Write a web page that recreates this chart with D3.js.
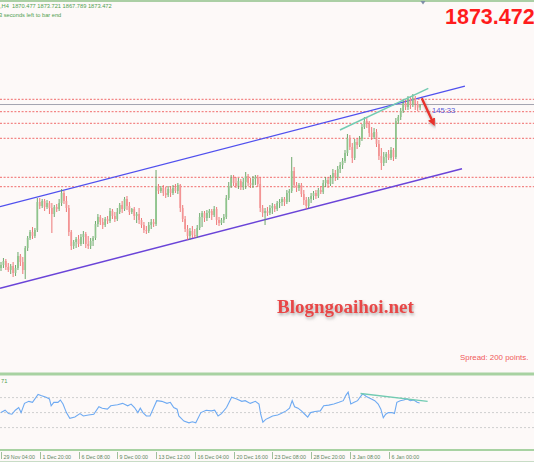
<!DOCTYPE html>
<html><head><meta charset="utf-8">
<script src="https://cdn.jsdelivr.net/npm/d3@7"></script>
<style>
html,body{margin:0;padding:0;background:#fdf9f8;}
svg{display:block;}
</style></head><body>
<svg id="c" width="534" height="462"></svg>
<script>
// ---- data ----
const ohlc = [
[1710,1716,1707,1713],[1713,1720,1710,1717],[1717,1719,1708,1711],[1711,1715,1706,1708],[1708,1714,1704,1712],
[1712,1716,1701,1705],[1705,1713,1702,1710],[1710,1726,1708,1722],[1722,1724,1712,1716],[1716,1721,1704,1708],
[1708,1732,1699,1730],[1730,1742,1727,1740],[1740,1748,1738,1746],[1746,1751,1739,1742],[1742,1750,1740,1748],
[1748,1780,1746,1776],[1776,1780,1769,1772],[1772,1779,1770,1777],[1777,1779,1767,1771],[1771,1778,1769,1775],
[1775,1777,1764,1770],[1770,1775,1745,1764],[1764,1773,1761,1771],[1771,1774,1766,1769],[1769,1779,1767,1775],
[1775,1789,1772,1785],[1785,1787,1774,1777],[1777,1782,1766,1770],[1770,1773,1742,1746],[1746,1748,1728,1732],
[1732,1738,1729,1736],[1736,1741,1730,1739],[1739,1743,1731,1734],[1734,1744,1732,1741],[1741,1747,1734,1744],
[1744,1746,1730,1734],[1734,1742,1729,1732],[1732,1740,1729,1737],[1737,1742,1732,1740],[1740,1757,1738,1754],
[1754,1764,1751,1761],[1761,1763,1753,1756],[1756,1760,1749,1753],[1753,1761,1751,1759],[1759,1762,1754,1757],
[1757,1770,1755,1767],[1767,1769,1759,1762],[1762,1766,1756,1759],[1759,1770,1757,1766],[1766,1775,1764,1773],
[1773,1777,1765,1769],[1769,1781,1767,1779],[1779,1782,1768,1772],[1772,1776,1763,1766],[1766,1770,1764,1769],
[1769,1771,1758,1762],[1762,1766,1755,1764],[1764,1770,1754,1758],[1758,1760,1750,1753],[1753,1756,1745,1748],
[1748,1752,1744,1747],[1747,1756,1745,1753],[1753,1759,1749,1756],[1756,1759,1751,1754],[1754,1808,1752,1792],
[1792,1794,1784,1787],[1787,1792,1785,1790],[1790,1793,1782,1785],[1785,1791,1780,1783],[1783,1792,1781,1789],
[1789,1792,1781,1785],[1785,1793,1783,1790],[1790,1794,1785,1787],[1787,1795,1784,1793],[1793,1794,1766,1770],
[1770,1773,1756,1759],[1759,1762,1746,1749],[1749,1753,1738,1742],[1742,1750,1738,1747],[1747,1752,1740,1743],
[1743,1749,1740,1742],[1742,1753,1740,1750],[1750,1765,1748,1761],[1761,1767,1751,1765],[1765,1767,1756,1760],
[1760,1768,1757,1765],[1765,1769,1760,1767],[1767,1769,1758,1763],[1763,1772,1761,1769],[1769,1771,1753,1758],
[1758,1761,1752,1755],[1755,1760,1753,1758],[1758,1764,1755,1761],[1761,1783,1759,1780],[1780,1796,1778,1792],
[1792,1803,1790,1800],[1800,1803,1792,1795],[1795,1801,1790,1792],[1792,1800,1789,1797],[1797,1799,1788,1791],
[1791,1800,1788,1796],[1796,1806,1789,1802],[1802,1804,1792,1795],[1795,1800,1790,1793],[1793,1802,1790,1799],
[1799,1803,1793,1801],[1801,1803,1791,1794],[1794,1801,1766,1770],[1770,1773,1761,1765],[1765,1770,1753,1767],
[1767,1771,1762,1765],[1765,1773,1763,1770],[1770,1775,1764,1772],[1772,1774,1766,1769],[1769,1777,1767,1775],
[1775,1779,1770,1776],[1776,1781,1772,1779],[1779,1781,1772,1776],[1776,1788,1774,1785],[1785,1789,1776,1787],
[1787,1821,1785,1807],[1807,1811,1790,1793],[1793,1796,1786,1790],[1790,1795,1787,1793],[1793,1795,1781,1784],
[1784,1788,1773,1778],[1778,1781,1769,1772],[1772,1781,1770,1779],[1779,1785,1775,1782],[1782,1787,1778,1785],
[1785,1788,1779,1782],[1782,1790,1780,1788],[1788,1792,1784,1786],[1786,1798,1784,1795],[1795,1801,1791,1798],
[1798,1801,1790,1794],[1794,1803,1792,1800],[1800,1809,1794,1805],[1805,1808,1797,1801],[1801,1812,1798,1809],
[1809,1816,1805,1813],[1813,1820,1809,1817],[1817,1828,1815,1825],[1825,1844,1822,1840],[1840,1843,1828,1831],
[1831,1835,1815,1820],[1820,1839,1818,1836],[1836,1840,1829,1833],[1833,1842,1831,1839],[1839,1854,1837,1851],
[1851,1861,1849,1857],[1857,1861,1850,1854],[1854,1857,1841,1845],[1845,1851,1838,1841],[1841,1850,1839,1846],
[1846,1849,1831,1834],[1834,1838,1818,1822],[1822,1830,1808,1815],[1815,1826,1812,1821],[1821,1826,1815,1824],
[1824,1828,1818,1820],[1820,1831,1818,1828],[1828,1830,1817,1821],[1821,1860,1819,1857],[1857,1863,1854,1861],
[1861,1870,1858,1867],[1867,1879,1865,1875],[1875,1878,1868,1871],[1871,1882,1868,1879],[1879,1881,1869,1873],
[1873,1884,1871,1880],[1880,1882,1868,1874],[1874,1877,1867,1870.477],[1870.477,1873.721,1867.789,1873.472]
];
const timeLabels = ["29 Nov 04:00","1 Dec 20:00","6 Dec 08:00","9 Dec 00:00","13 Dec 12:00","16 Dec 04:00","20 Dec 16:00","23 Dec 08:00","28 Dec 20:00","3 Jan 08:00","6 Jan 00:00"];
const barsPerLabel = 16;
const dottedLevels = [1878.7,1866.3,1854.7,1839.7,1800.7,1791.3];
const bidPrice = 1873.472;
const headerLine1 = ",H4  1870.477 1873.721 1867.789 1873.472";
const headerLine2 = "3 seconds left to bar end";
const bigPriceText = "1873.472";
const timerText = "145:33";
const spreadText = "Spread: 200 points.";
const watermark = "Blogngoaihoi.net";
const upperChannel = [[-0.4,1771.3],[191.5,1891.8]];
const lowerChannel = [[-0.4,1689.7],[190.3,1809.3]];
const priceTrend = [[139.9,1848],[176.4,1889.7]];
const arrowPts = [[173.7,1879.7],[178.5,1854.7]];
const rsiLevels = [70,50,30];
const rsiIdx = [0,1.7,3.1,4.5,5.9,7.3,8.3,9.7,11.5,13,15.3,16.5,18.6,20,20.7,21.8,23.5,24.5,25.6,27,28.4,30.5,32.6,34,36.1,38.3,40.4,41.8,43.9,45.3,48.1,50.2,52.3,53.7,55.1,56.5,57.5,58.6,60,61.5,64.3,66.4,68.5,69.9,71.3,72.7,73.4,75.5,77.6,79,80.4,82.5,84.7,86.8,88.2,89.6,91,93.1,95.2,97.3,99.4,100.8,102.9,105,106.5,107.2,108.1,109.3,110.7,112.1,114.2,115.6,117.7,119.1,120.2,121.2,122.6,124,125.4,126.6,127.8,129.6,131.8,133.2,135.3,137.4,139.5,141.3,142.3,143.3,144.4,145.8,147.2,148.4,149.3,150.8,152.9,154.3,155.7,156.8,157.8,158.8,159.9,161.3,162.4,163.4,164.8,166.2,167.6,169,170.4,171.8,172.8];
const rsiVal = [50,53.2,48.7,47.8,53.2,56.8,50,62.3,65,63.7,74.1,72.7,70.5,68.2,59.1,63.7,63.7,66.8,61.4,50,42.3,44.1,48.7,45.5,46.9,47.8,57.8,55.9,54.6,59.1,60.5,62.3,59.1,61.4,56.8,50,55.9,50,45.5,45.5,65.9,65,62.3,63.7,56.8,54.6,45.5,38.7,36.4,37.8,36.4,50,53.2,52.3,53.2,45.5,48.7,56.8,70.5,68.2,65,65.9,62.3,65,61.4,47.8,37.3,41,43.2,45.5,46.9,48.7,52.3,55.9,65.9,57.8,55.9,52.3,47.8,44.1,50,51.4,52.3,59.1,60,61.4,63.7,65.9,72.7,77.3,61.4,63.7,65.9,71.4,75,71.4,68.2,65.9,61.4,54.6,43.2,47.8,50,50,48.7,63.7,65.9,66.8,68.2,65.9,66.8,63.7,62.8];
const rsiTrend = [[148.4,75.5],[176.1,65]];
const rsiLabel = "71";

// ---- scales ----
const svg = d3.select("#c");
const W = 534, H = 462;
const x = d3.scaleLinear().domain([0, ohlc.length - 1]).range([1, 420.1]);
const y = d3.scaleLinear().domain([1606, 1974]).range([372, 4]);
const yr = d3.scaleLinear().domain([0, 100]).range([450.1, 375.1]);

const defs = svg.append("defs");
defs.append("clipPath").attr("id","pclip").append("rect").attr("x",0).attr("y",2).attr("width",W).attr("height",370);
defs.append("clipPath").attr("id","rclip").append("rect").attr("x",0).attr("y",376).attr("width",W).attr("height",73);
const sh = defs.append("filter").attr("id","shadow").attr("x","-20%").attr("y","-30%").attr("width","140%").attr("height","180%");
sh.append("feDropShadow").attr("dx",1).attr("dy",2).attr("stdDeviation",1.4).attr("flood-color","#777").attr("flood-opacity",0.6);
defs.append("marker").attr("id","ah").attr("viewBox","0 0 10 10").attr("refX",6).attr("refY",5)
  .attr("markerWidth",3.2).attr("markerHeight",3.2).attr("orient","auto")
  .append("path").attr("d","M0,0 L10,5 L0,10 z").attr("fill","#e8302a");

svg.append("rect").attr("width",W).attr("height",H).attr("fill","#fdf9f8");

// frame lines
svg.append("line").attr("x1",0).attr("x2",W).attr("y1",1).attr("y2",1).attr("stroke","#8fc08a").attr("stroke-width",1.5);
svg.append("rect").attr("x",0).attr("y",372.5).attr("width",W).attr("height",3).attr("fill","#a8d2a2");
svg.append("rect").attr("x",0).attr("y",449).attr("width",W).attr("height",2).attr("fill","#a8d2a2");
svg.append("line").attr("x1",0).attr("x2",W).attr("y1",461.5).attr("y2",461.5).attr("stroke","#c8dcc6").attr("stroke-width",1);

const pg = svg.append("g").attr("clip-path","url(#pclip)");

// dotted levels
pg.selectAll("line.lvl").data(dottedLevels).join("line").attr("class","lvl")
  .attr("x1",0).attr("x2",W).attr("y1",d=>y(d)).attr("y2",d=>y(d))
  .attr("stroke","#f06a6a").attr("stroke-width",1).attr("stroke-dasharray","2,1.6");
// bid line
pg.append("line").attr("x1",0).attr("x2",W).attr("y1",y(bidPrice)).attr("y2",y(bidPrice))
  .attr("stroke","#a4a4b0").attr("stroke-width",1);

const lineGen = d3.line().x(d=>x(d[0])).y(d=>y(d[1]));
pg.append("path").attr("d",lineGen(upperChannel)).attr("stroke","#5050ee").attr("stroke-width",1.3).attr("fill","none");
pg.append("path").attr("d",lineGen(lowerChannel)).attr("stroke","#6a44d8").attr("stroke-width",1.5).attr("fill","none");

// candles
const cg = pg.append("g");
const bars = cg.selectAll("g.bar").data(ohlc).join("g").attr("class","bar");
bars.append("line")
  .attr("x1",(d,i)=>x(i)).attr("x2",(d,i)=>x(i))
  .attr("y1",d=>y(d[1])).attr("y2",d=>y(d[2]))
  .attr("stroke",d=>d[3]>=d[0]?"#5e9f5e":"#ec6a6a").attr("stroke-width",0.9);
bars.append("rect")
  .attr("x",(d,i)=>x(i)-0.85).attr("width",1.7)
  .attr("y",d=>y(Math.max(d[0],d[3])))
  .attr("height",d=>Math.max(0.8, Math.abs(y(d[0])-y(d[3]))))
  .attr("fill",d=>d[3]>=d[0]?"#8ec48c":"#f39494");

// teal trend line
pg.append("path").attr("d",lineGen(priceTrend)).attr("stroke","#72cbb2").attr("stroke-width",1.4).attr("fill","none");

// red arrow
pg.append("path").attr("d",lineGen(arrowPts)).attr("stroke","#e8302a").attr("stroke-width",2.4)
  .attr("fill","none").attr("marker-end","url(#ah)").attr("filter","url(#shadow)");

// timer text
svg.append("text").attr("x",432).attr("y",y(bidPrice)+8).text(timerText)
  .attr("font-family","Liberation Sans, Arial, sans-serif").attr("font-size",7.6).attr("fill","#5a5ad8");

// header
svg.append("text").attr("x",0).attr("y",8).text(headerLine1).attr("xml:space","preserve")
  .attr("font-family","Liberation Sans, Arial, sans-serif").attr("font-size",5.7).attr("fill","#4f9f4f");
svg.append("text").attr("x",-1).attr("y",16.5).text(headerLine2)
  .attr("font-family","Liberation Sans, Arial, sans-serif").attr("font-size",5.7).attr("fill","#4f9f4f");
// small marker
svg.append("path").attr("d","M420.5,1 L425.5,1 L423,4.5 z").attr("fill","#8090a8");

// big price
svg.append("text").attr("x",445).attr("y",23.5).text(bigPriceText)
  .attr("font-family","Liberation Sans, Arial, sans-serif").attr("font-weight","bold").attr("font-size",21.5).attr("fill","#ff1c1c");

// watermark
svg.append("text").attr("x",277).attr("y",312.5).text(watermark)
  .attr("font-family","Liberation Serif, Times New Roman, serif").attr("font-weight","bold").attr("font-size",19)
  .attr("fill","#e84646").attr("filter","url(#shadow)");

// spread
svg.append("text").attr("x",460).attr("y",359.5).text(spreadText)
  .attr("font-family","Liberation Sans, Arial, sans-serif").attr("font-size",7.9).attr("fill","#f05a5a");

// RSI panel
const rg = svg.append("g").attr("clip-path","url(#rclip)");
rg.selectAll("line.rl").data(rsiLevels).join("line").attr("class","rl")
  .attr("x1",0).attr("x2",W).attr("y1",d=>yr(d)).attr("y2",d=>yr(d))
  .attr("stroke","#cfcfcf").attr("stroke-width",1).attr("stroke-dasharray","2,2");
const rsiLine = d3.line().x(d=>x(d[0])).y(d=>yr(d[1]));
rg.append("path").attr("d",rsiLine(d3.zip(rsiIdx,rsiVal))).attr("stroke","#6eaaf2").attr("stroke-width",1.1).attr("fill","none");
rg.append("path").attr("d",rsiLine(rsiTrend)).attr("stroke","#72cbb2").attr("stroke-width",1.4).attr("fill","none");
svg.append("text").attr("x",1).attr("y",383).text(rsiLabel)
  .attr("font-family","Liberation Sans, Arial, sans-serif").attr("font-size",5.7).attr("fill","#4f9f4f");

// time axis
const ta = svg.append("g");
timeLabels.forEach((t,k)=>{
  const xx = Math.round(x(k*barsPerLabel));
  ta.append("line").attr("x1",xx+0.5).attr("x2",xx+0.5).attr("y1",452).attr("y2",459).attr("stroke","#9fbf9c").attr("stroke-width",1);
  ta.append("text").attr("x",xx+2.5).attr("y",458.5).text(t)
    .attr("font-family","Liberation Sans, Arial, sans-serif").attr("font-size",5.3).attr("fill","#5f875f");
});
</script>
</body></html>
